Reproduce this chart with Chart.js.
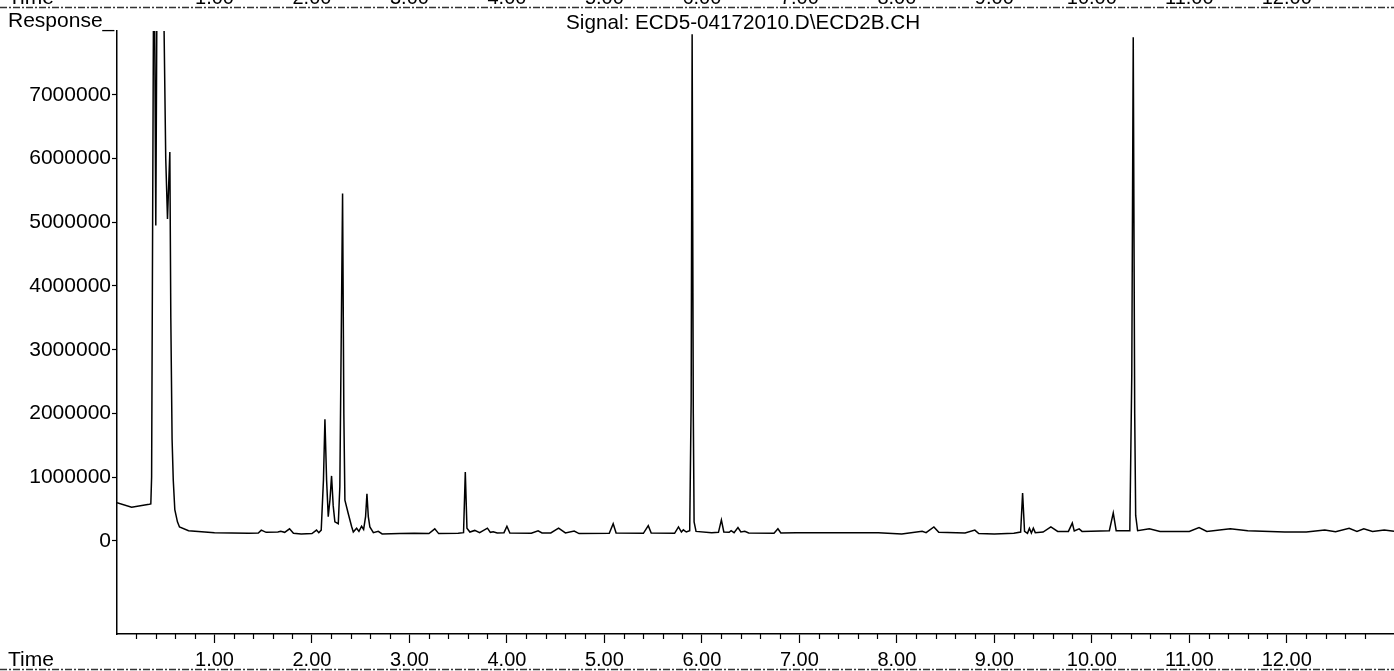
<!DOCTYPE html>
<html>
<head>
<meta charset="utf-8">
<script src="https://cdn.jsdelivr.net/npm/chart.js@4.4.1/dist/chart.umd.min.js"></script>
<style>
  html, body { margin:0; padding:0; background:#fff; }
  #wrap { position:relative; width:1394px; height:671px; }
</style>
</head>
<body>
<div id="wrap"><canvas id="chrom"></canvas></div>
<script>
// Cromatograma ECD: tiempo (min) vs respuesta. Valores leidos a ojo del trazo original.

const signalTitle = 'Signal: ECD5-04172010.D\\ECD2B.CH';
const yAxisName = 'Response_';
const xAxisName = 'Time';

const xMajorTicks = [1,2,3,4,5,6,7,8,9,10,11,12];
const xTickLabels = ['1.00','2.00','3.00','4.00','5.00','6.00','7.00','8.00','9.00','10.00','11.00','12.00'];
const yTicks = [0,1000000,2000000,3000000,4000000,5000000,6000000,7000000];

// tiempo de retencion (min)
const times = [
  0.00, 0.15, 0.33, 0.347, 0.355, 0.375, 0.385, 0.398, 0.41, 0.478,
  0.50, 0.518, 0.542, 0.552, 0.565, 0.577, 0.593, 0.62, 0.641, 0.734,
  1.00, 1.35, 1.45, 1.48, 1.53, 1.65, 1.68, 1.72, 1.77, 1.81,
  1.89, 2.00, 2.047, 2.07, 2.095, 2.118, 2.133, 2.15, 2.167, 2.185,
  2.201, 2.218, 2.235, 2.27, 2.286, 2.314, 2.327, 2.338, 2.372, 2.406,
  2.424, 2.458, 2.482, 2.509, 2.53, 2.55, 2.564, 2.578, 2.594, 2.63,
  2.68, 2.72, 2.90, 3.05, 3.20, 3.26, 3.30, 3.50, 3.555, 3.573,
  3.59, 3.62, 3.67, 3.72, 3.80, 3.83, 3.86, 3.90, 3.97, 4.00,
  4.03, 4.25, 4.32, 4.36, 4.45, 4.53, 4.60, 4.69, 4.74, 5.05,
  5.09, 5.12, 5.40, 5.45, 5.48, 5.72, 5.76, 5.79, 5.81, 5.84,
  5.875, 5.89, 5.90, 5.912, 5.92, 5.94, 6.10, 6.17, 6.20, 6.225,
  6.28, 6.30, 6.33, 6.37, 6.40, 6.44, 6.48, 6.74, 6.78, 6.81,
  6.97, 7.26, 7.81, 8.05, 8.26, 8.30, 8.38, 8.43, 8.70, 8.80,
  8.84, 9.00, 9.20, 9.27, 9.29, 9.31, 9.34, 9.36, 9.38, 9.40,
  9.42, 9.50, 9.58, 9.65, 9.76, 9.80, 9.82, 9.87, 9.90, 10.18,
  10.22, 10.25, 10.39, 10.41, 10.425, 10.44, 10.45, 10.47, 10.59, 10.70,
  11.00, 11.10, 11.18, 11.42, 11.60, 11.98, 12.20, 12.39, 12.50, 12.64,
  12.72, 12.79, 12.88, 13.00, 13.10
];

// respuesta del detector (cuentas)
const responses = [
  600000, 530000, 575000, 580000, 1000000, 8600000, 8600000, 4950000, 8600000, 8600000,
  6000000, 5050000, 6100000, 3500000, 1600000, 960000, 490000, 300000, 220000, 160000,
  130000, 120000, 125000, 170000, 135000, 140000, 150000, 135000, 190000, 120000,
  110000, 115000, 170000, 130000, 170000, 960000, 1910000, 960000, 380000, 650000,
  1020000, 550000, 300000, 270000, 850000, 5450000, 2000000, 640000, 430000, 230000,
  140000, 200000, 150000, 230000, 180000, 380000, 740000, 380000, 220000, 130000,
  150000, 110000, 115000, 120000, 115000, 190000, 115000, 120000, 130000, 1080000,
  200000, 140000, 165000, 130000, 200000, 135000, 145000, 125000, 130000, 230000,
  125000, 120000, 160000, 125000, 125000, 200000, 125000, 155000, 115000, 120000,
  270000, 125000, 120000, 240000, 125000, 120000, 220000, 140000, 175000, 140000,
  160000, 2200000, 7950000, 2000000, 300000, 150000, 130000, 135000, 330000, 140000,
  135000, 160000, 130000, 210000, 140000, 150000, 125000, 120000, 190000, 125000,
  130000, 130000, 130000, 110000, 150000, 130000, 220000, 135000, 125000, 170000,
  115000, 110000, 120000, 140000, 750000, 150000, 120000, 200000, 125000, 200000,
  130000, 140000, 220000, 150000, 150000, 280000, 155000, 190000, 150000, 160000,
  440000, 160000, 160000, 2600000, 7900000, 2000000, 400000, 160000, 190000, 150000,
  150000, 210000, 150000, 190000, 160000, 140000, 140000, 170000, 145000, 200000,
  150000, 190000, 150000, 170000, 150000
];

const FONT = '"Liberation Sans", Arial, Helvetica, sans-serif';

// marcas menores cada 0.2 min
const xMinorTicks = [];
for (let k = 1; k <= 65; k++) {
  if (k % 5 !== 0) xMinorTicks.push(k / 5);
}

const pageText = {
  id: 'pageText',
  afterDraw(chart){
    const ctx = chart.ctx;
    const xs = chart.scales.x;
    const area = chart.chartArea;
    ctx.save();
    ctx.strokeStyle = '#000';
    ctx.lineWidth = 1.2;
    xMinorTicks.forEach(v => {
      const px = Math.round(xs.getPixelForValue(v)) + 0.5;
      ctx.beginPath();
      ctx.moveTo(px, area.bottom);
      ctx.lineTo(px, area.bottom + 5);
      ctx.stroke();
    });

    ctx.fillStyle = '#000';
    ctx.textAlign = 'left';
    ctx.textBaseline = 'alphabetic';
    ctx.font = '21px ' + FONT;
    ctx.fillText(yAxisName, 8, 27);
    ctx.fillText(xAxisName, 8, 666);
    ctx.font = '20.7px ' + FONT;
    ctx.fillText(signalTitle, 566, 29);

    // fila cortada de la pagina anterior
    ctx.font = '21px ' + FONT;
    ctx.fillText(xAxisName, 8, 4);
    ctx.font = '20px ' + FONT;
    ctx.textAlign = 'center';
    xMajorTicks.forEach((v, i) => ctx.fillText(xTickLabels[i], xs.getPixelForValue(v), 4));

    // lineas punteadas del borde de pagina
    ctx.strokeStyle = '#333';
    ctx.lineWidth = 1.5;
    ctx.setLineDash([7, 2, 2, 2]);
    [7.5, 669.5].forEach(y => {
      ctx.beginPath();
      ctx.moveTo(0, y);
      ctx.lineTo(chart.width, y);
      ctx.stroke();
    });
    ctx.restore();
  }
};

new Chart(document.getElementById('chrom'), {
  type: 'line',
  data: {
    datasets: [{
      data: times.map((t, i) => ({x: t, y: responses[i]})),
      borderColor: '#000',
      borderWidth: 1.5,
      pointRadius: 0,
      tension: 0,
      fill: false
    }]
  },
  options: {
    responsive: true,
    maintainAspectRatio: false,
    animation: false,
    layout: { padding: { top: 31, right: 0, bottom: 0, left: 0 } },
    plugins: { legend: { display: false }, tooltip: { enabled: false }, title: { display: false } },
    scales: {
      x: {
        type: 'linear',
        min: 0,
        max: 13.1,
        afterBuildTicks: s => { s.ticks = xMajorTicks.map(v => ({value: v})); },
        afterFit: s => { s.height = 37; },
        grid: { drawOnChartArea: false, drawTicks: true, tickLength: 9, color: '#000', tickWidth: 1.2 },
        border: { display: true, color: '#000', width: 1.5 },
        ticks: {
          autoSkip: false,
          maxRotation: 0,
          padding: 5,
          color: '#000',
          font: { family: FONT, size: 20 },
          callback: (v) => xTickLabels[xMajorTicks.indexOf(v)]
        }
      },
      y: {
        type: 'linear',
        min: -1460000,
        max: 8000000,
        afterBuildTicks: s => { s.ticks = yTicks.map(v => ({value: v})); },
        afterFit: s => { s.width = 117; },
        grid: { drawOnChartArea: false, drawTicks: true, tickLength: 5, color: '#000', tickWidth: 1.2 },
        border: { display: true, color: '#000', width: 1.5 },
        ticks: {
          padding: 1,
          color: '#000',
          font: { family: FONT, size: 21 },
          callback: (v) => String(v)
        }
      }
    }
  },
  plugins: [pageText]
});
</script>
</body>
</html>
